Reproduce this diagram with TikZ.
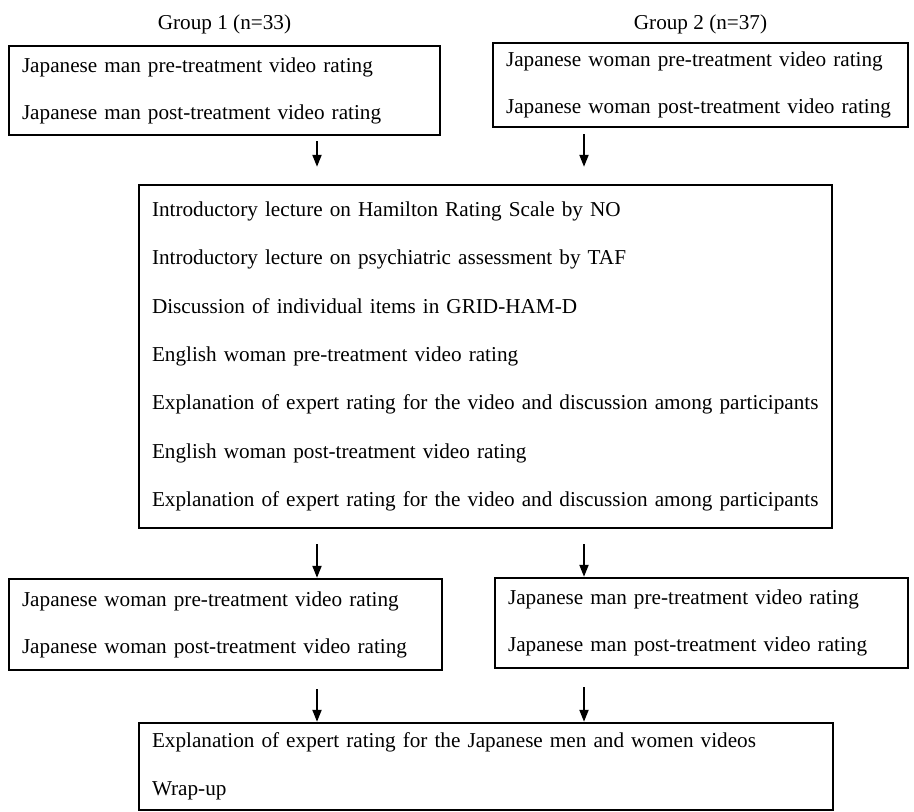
\documentclass[tikz,border=0pt]{standalone}
\usepackage{fontspec}
\setmainfont{Liberation Serif}
\usetikzlibrary{arrows.meta}

\begin{document}
\begin{tikzpicture}[x=0.5pt,y=-0.5pt,
        box/.style={rectangle,draw,line width=1.2pt,align=left,inner xsep=6.5pt,inner ysep=0pt,
                    font=\fontsize{10.6}{23.5}\selectfont},
        grp/.style={font=\fontsize{10.6}{12}\selectfont},
        flow/.style={line width=1pt,arrows = -{Triangle[width=4.5pt,length=6pt]}}]

            % \draw [help lines] (0,0) grid (914,812);
            \useasboundingbox (0,0) rectangle (914,812);

            \path   (224.5,24) node (g1) [grp] {Group 1 (n=33)}
                    (700.5,24) node (g2) [grp] {Group 2 (n=37)};

            \path   (224.5,90.5) node (a) [box,text width=202.5pt,minimum height=44.5pt]
                        {\mbox{Japanese man pre-treatment video rating}\\\mbox{Japanese man post-treatment video rating}}
                    (700.5,85) node (b) [box,text width=194.5pt,minimum height=42pt]
                        {\mbox{Japanese woman pre-treatment video rating}\\\mbox{Japanese woman post-treatment video rating}}
                    (485.5,356.5) node (c) [box,text width=333.5pt,minimum height=171.5pt,
                                            font=\fontsize{10.6}{24.2}\selectfont]
                        {\mbox{Introductory lecture on Hamilton Rating Scale by NO}\\
                         \mbox{Introductory lecture on psychiatric assessment by TAF}\\
                         \mbox{Discussion of individual items in GRID-HAM-D}\\
                         \mbox{English woman pre-treatment video rating}\\
                         \mbox{Explanation of expert rating for the video and discussion among participants}\\
                         \mbox{English woman post-treatment video rating}\\
                         \mbox{Explanation of expert rating for the video and discussion among participants}}
                    (225.5,624.5) node (d) [box,text width=203.5pt,minimum height=45.5pt]
                        {\mbox{Japanese woman pre-treatment video rating}\\\mbox{Japanese woman post-treatment video rating}}
                    (701.5,623) node (e) [box,text width=193.5pt,minimum height=45pt]
                        {\mbox{Japanese man pre-treatment video rating}\\\mbox{Japanese man post-treatment video rating}}
                    (486,766.5) node (f) [box,text width=334pt,minimum height=43.5pt,
                                          font=\fontsize{10.6}{24}\selectfont]
                        {\mbox{Explanation of expert rating for the Japanese men and women videos}\\Wrap-up};

            \coordinate (l) at (317,0);
            \coordinate (r) at (584,0);

            \draw[flow,shorten <=2.5pt,shorten >=8.5pt] (a.south -| l) -- (c.north -| l);
            \draw[flow,shorten <=3pt,shorten >=8.5pt] (b.south -| r) -- (c.north -| r);
            \draw[flow,shorten <=7.5pt] (c.south -| l) -- (d.north -| l);
            \draw[flow,shorten <=7.5pt] (c.south -| r) -- (e.north -| r);
            \draw[flow,shorten <=9pt] (d.south -| l) -- (f.north -| l);
            \draw[flow,shorten <=9pt] (e.south -| r) -- (f.north -| r);

\end{tikzpicture}
\end{document}
